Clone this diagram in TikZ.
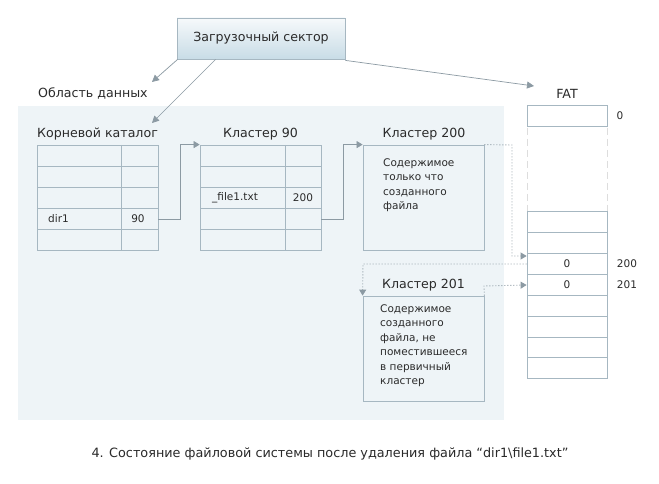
\documentclass[tikz,border=0pt]{standalone}
\usepackage{fontspec}
\setmainfont{DejaVu Sans}
\usetikzlibrary{arrows.meta,calc}
\definecolor{bg}{HTML}{EEF4F7}
\definecolor{ln}{HTML}{A6B7C1}
\definecolor{arr}{HTML}{8C9AA3}
\definecolor{txt}{HTML}{2A2A2A}
\definecolor{gapc}{HTML}{DDDDDD}
\definecolor{boottop}{HTML}{F6F9FB}
\definecolor{bootbot}{HTML}{C8DCE6}
\begin{document}
\begin{tikzpicture}[x=1pt,y=-1pt,
  lbl/.style={font=\fontsize{12.6}{14}\selectfont, text=txt, inner sep=0pt},
  sml/.style={font=\fontsize{10.5}{14.5}\selectfont, text=txt, inner sep=0pt},
  captxt/.style={font=\fontsize{12.8}{14}\selectfont, text=txt, inner sep=0pt},
  tbl/.style={draw=ln, line width=0.8pt, inner sep=0pt},
  arrowline/.style={draw=arr, line width=0.7pt, -{Triangle[length=7pt,width=7pt]}},
  dotline/.style={draw=arr, line width=0.9pt, dash pattern=on 0.9pt off 2.1pt, -{Triangle[length=6pt,width=7pt]}}
]
\useasboundingbox (0,0) rectangle (659,484);
\fill[white] (0,0) rectangle (659,484);
\fill[bg] (18,106) rectangle (504,420);

% boot sector
\node[draw=ln, line width=0.8pt, top color=boottop, bottom color=bootbot, minimum width=168pt, minimum height=41pt, inner sep=0pt, lbl] (boot) at (261,38.5) {Загрузочный сектор};

\node[lbl, anchor=west] (area) at (38,93) {Область данных};
\coordinate (areatip) at (152,82);
\coordinate (roottip) at (152,123);
\coordinate (fattip) at (534,86);
\draw[arrowline] ($(boot.south west)+(1,0)$) -- (areatip);
\draw[arrowline] ($(boot.south west)+(39,0)$) -- (roottip);
\draw[arrowline] ($(boot.south east)+(0,1)$) -- (fattip);

% root directory
\node[lbl] (rootlbl) at (97.5,134.5) {Корневой каталог};
\node[tbl, minimum width=121pt, minimum height=105pt] (root) at (97.5,197.5) {};
\foreach \y in {166,187,208.5,229} \draw[ln, line width=0.8pt] (37,\y) -- (158,\y);
\draw[ln, line width=0.8pt] (121,145) -- (121,250);
\node[sml, anchor=west] (dir1) at (48,219) {dir1};
\node[sml] (dir1c) at (138,219) {90};

% cluster 90
\node[lbl] (c90lbl) at (260.5,134.5) {Кластер 90};
\node[tbl, minimum width=121pt, minimum height=105pt] (c90) at (260.5,197.5) {};
\foreach \y in {166,187,208.5,229} \draw[ln, line width=0.8pt] (200,\y) -- (321,\y);
\draw[ln, line width=0.8pt] (285,145) -- (285,250);
\node[sml, anchor=west] (file) at (212,198) {\_file1.txt};
\node[sml] (filec) at (303,198) {200};

% cluster 200
\node[lbl] (c200lbl) at (424,134.5) {Кластер 200};
\node[tbl, minimum width=121pt, minimum height=105pt] (c200) at (423.5,197.5) {};
\node[sml, anchor=north west, align=left] (c200t) at (383,158.5) {Содержимое\\только что\\созданного\\файла};

% cluster 201
\node[lbl] (c201lbl) at (423.5,285) {Кластер 201};
\node[tbl, minimum width=121pt, minimum height=105pt] (c201) at (423.5,348.5) {};
\node[sml, anchor=north west, align=left] (c201t) at (380,304.5) {Содержимое\\созданного\\файла, не\\поместившееся\\в первичный\\кластер};

% connectors solid
\draw[draw=arr, line width=0.7pt, -{Triangle[length=6pt,width=7pt]}] (root.east |- dir1) -- (180,219) |- (c90.north west);
\draw[draw=arr, line width=0.7pt, -{Triangle[length=6pt,width=7pt]}] (c90.east |- dir1) -- (343,219) |- (c200.north west);

% FAT
\node[lbl] (fatlbl) at (567,94) {FAT};
\node[tbl, fill=white, minimum width=80pt, minimum height=21pt] (fat0) at (567,115.5) {};
\node[sml] (fat0n) at (620,116) {0};
\draw[gapc, line width=0.8pt, dash pattern=on 7pt off 4pt] (527,128) -- (527,211);
\draw[gapc, line width=0.8pt, dash pattern=on 7pt off 4pt] (607,128) -- (607,211);
\node[tbl, fill=white, minimum width=80pt, minimum height=167pt] (fat) at (567,294.5) {};
\foreach \y in {232,253,274,295,316,337,357} \draw[ln, line width=0.8pt] (527,\y) -- (607,\y);
\node[sml] (f200) at (567,264) {0};
\node[sml] (f200n) at (627,264) {200};
\node[sml] (f201) at (567,285) {0};
\node[sml] (f201n) at (627,285) {201};

% dotted connectors
\draw[dotline] (c200.north east) -- (512,145) -- (512,256) -- (fat.west |- 0,256);
\draw[dotline] (fat.west |- f200) -- (363,264) -- (c201.north west);
\draw[dotline] (c201.north east) -- (484,286) -- (fat.west |- f201);

% caption
\node[captxt] (caption) at (330,454) {4. Состояние файловой системы после удаления файла “dir1\textbackslash file1.txt”};
\end{tikzpicture}
\end{document}
